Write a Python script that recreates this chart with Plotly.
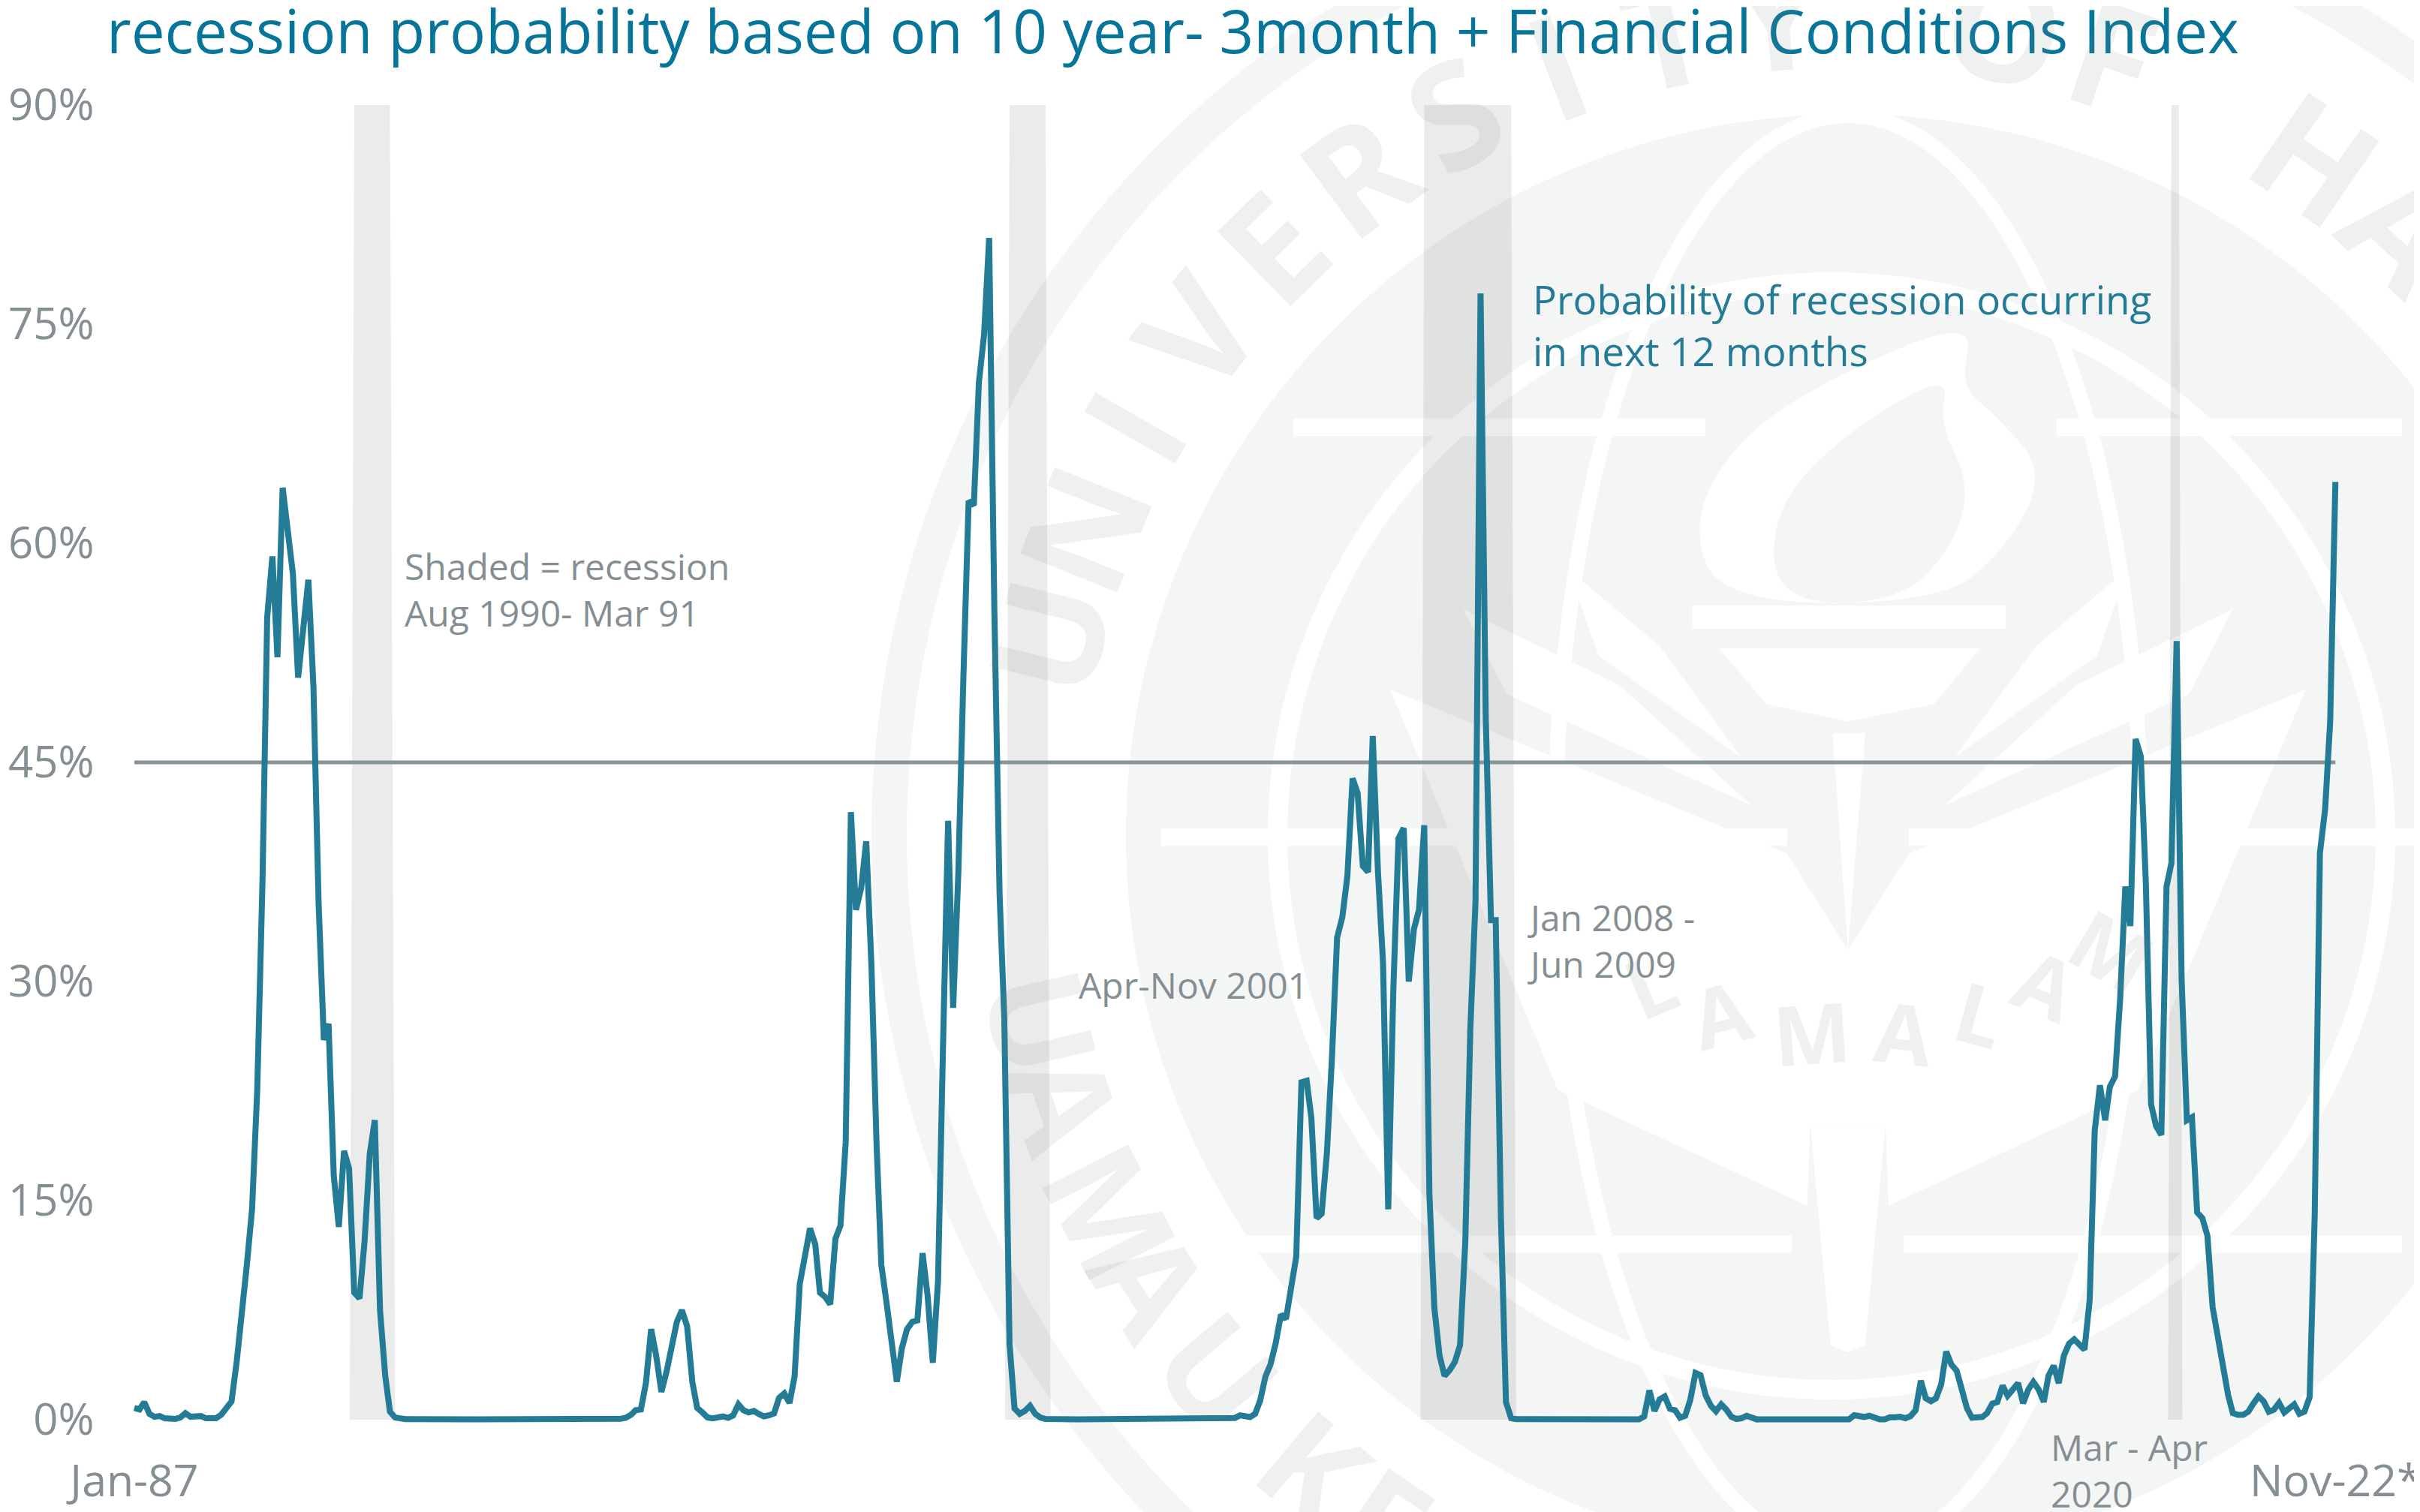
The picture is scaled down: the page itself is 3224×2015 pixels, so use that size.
import math
import pandas as pd
import plotly.graph_objects as go

W, H = 3224, 2015
L, R, T, B = 172, 3118, 140, 1902
PAGE_OFFSET = 8

months = pd.date_range("1987-01-01", periods=431, freq="MS")
prob = [
 .8,.7,1.2,.4,.2,.25,.1,.05,.05,.15,.45,.2,
 .2,.25,.1,.05,.1,.35,.85,1.25,4.0,7.0,10.7,14.4,
 22.6,36.8,54.9,59.1,52.2,63.8,60.8,57.9,50.8,54.6,57.5,50.2,
 35.3,26.0,27.1,16.7,13.2,18.4,17.2,8.7,8.3,12.2,18.2,20.5,
 7.5,3.0,.55,.15,.05,.04,.04,.03,.03,.03,.03,.03,
 .02,.02,.02,.02,.02,.02,.02,.02,.02,.02,.02,.02,
 .02,.02,.02,.02,.02,.02,.02,.02,.02,.02,.02,.02,
 .02,.02,.02,.02,.02,.02,.02,.02,.02,.02,.03,.07,
 .13,.33,.65,.7,2.5,6.2,4.4,1.9,3.3,5.2,6.7,7.5,
 6.4,2.6,.8,.5,.16,.1,.16,.23,.13,.3,1.05,.65,
 .5,.6,.4,.23,.3,.43,1.5,1.8,1.15,2.95,9.3,11,
 13.1,12,8.7,8.4,7.9,12.4,13.3,19,41.6,34.9,36.4,39.6,
 31.1,18.7,10.6,8,5.2,2.6,4.9,6.2,6.7,6.8,11.4,8.5,
 3.9,9.5,25.2,41.0,28.2,37.5,50.9,62.9,62.6,71,74.3,80.9,
 55.4,36,27.5,5.2,.77,.4,.6,.95,.4,.15,.05,.03,
 .03,.03,.03,.03,.03,.03,.03,.03,.1,.1,.03,.03,
 .03,.03,.03,.03,.03,.03,.03,.03,.03,.03,.03,.03,
 .03,.03,.03,.03,.03,.03,.03,.03,.03,.03,.1,.12,
 .3,.25,.18,.41,
 1.33,2.97,3.79,5.25,7.2,6.9,8.85,11.15,23.1,23.2,20.65,13.8,
 14.1,18.2,24.7,33,34.4,37.2,43.9,42.9,37.9,37.5,46.8,37.5,
 31.3,14.4,29.3,39.8,40.5,30,33.6,34.9,40.7,15.4,7.7,4.4,
 3.0,3.4,3.95,5.1,12.1,26.7,35.5,77.1,48,34.2,34.2,13.9,
 1.2,.1,.04,.04,.04,.04,.04,.04,.04,.04,.04,.04,
 .04,.04,.07,.07,.07,.07,.05,.05,.03,.03,.03,.03,
 .03,.03,.03,.22,2,.6,1.4,1.6,.75,.65,.14,.27,
 1.35,3.2,3.05,1.65,.95,.58,1.05,.7,.19,.05,.1,.27,
 .14,.02,.03,.03,.03,.03,.03,.03,.03,.03,.03,.03,
 .03,.03,.03,.03,.03,.03,.03,.03,.31,.27,.19,.27,
 .1,.02,.02,.17,.17,.2,.1,.24,.65,2.67,1.47,1.27,
 1.47,2.41,4.67,3.77,3.36,2.16,.79,.14,.17,.19,.45,1.1,
 1.22,2.33,1.64,2.07,2.5,1.13,2.07,2.59,2.07,1.22,3.0,3.7,
 2.5,4.4,5.2,5.5,5.2,4.8,8.2,19.8,22.9,20.5,22.8,23.5,
 28.8,36.5,33.8,46.6,45.4,36.7,21.6,20.1,19.5,36.5,38.1,53.3,
 30,20.5,20.7,14.2,13.8,12.6,7.7,5.6,4.0,1.7,.45,.33,
 .33,.55,1.1,1.6,1.25,.55,.7,1.15,.5,.75,1.05,.4,
 .55,1.55,14,38.8,41.8,47.8,64.2,
]
threshold = [45, 45]
threshold_dates = ["1987-01-01", "2022-11-01"]
recession_top_start = ["1990-08-01", "2001-04-01", "2008-01-01", "2020-03-01"]
recession_top_end = ["1991-03-01", "2001-11-01", "2009-06-01", "2020-04-15"]
recession_base_start = ["1990-07-05", "2001-03-05", "2007-12-10", "2020-02-10"]
recession_base_end = ["1991-04-01", "2001-12-01", "2009-07-01", "2020-05-05"]
y_ticks = [0, 15, 30, 45, 60, 75, 90]
y_labels = ["0%", "15%", "30%", "45%", "60%", "75%", "90%"]
x_ticks = ["1987-01-01", "2022-11-01"]
x_labels = ["Jan-87", "Nov-22*"]
assert len(prob) == 431, len(prob)

TEAL = "#237B96"
GRAY = "#858E93"
SEAL = "#F4F5F5"
LETTER = "rgba(125,135,135,0.12)"
FONT = "Open Sans"


def px(X):
    return (X - L) / (R - L)


def py(Y):
    return (B - Y) / (B - T)


def zx(x):
    return 1100 + x / 0.738


def zy(y):
    return y / 0.778


def pt(p):
    return f"{px(zx(p[0])):.5f},{py(zy(p[1])):.5f}"


def poly(points, color="white"):
    d = "M " + " L ".join(pt(p) for p in points) + " Z"
    return dict(type="path", path=d, xref="paper", yref="paper", layer="below",
                fillcolor=color, line=dict(width=0))


def blob(points, color="white"):
    n = len(points)
    mids = [((points[i][0] + points[(i + 1) % n][0]) / 2, (points[i][1] + points[(i + 1) % n][1]) / 2)
            for i in range(n)]
    d = "M " + pt(mids[-1])
    for i in range(n):
        d += " Q " + pt(points[i]) + " " + pt(mids[i])
    return dict(type="path", path=d + " Z", xref="paper", yref="paper", layer="below",
                fillcolor=color, line=dict(width=0))


def circle(cx, cy, rx, ry, fill=None, line=None, lw=0):
    return dict(type="circle", xref="paper", yref="paper", layer="below",
                x0=px(cx - rx), x1=px(cx + rx), y0=py(cy + ry), y1=py(cy - ry),
                fillcolor=fill if fill else "rgba(0,0,0,0)",
                line=dict(color=line if line else "rgba(0,0,0,0)", width=lw))


def mirror(points):
    return [(2010 - a, b) for a, b in points]


CX, CY = 2462, 1114
shapes = [
    circle(CX, CY, 1301, 1301, fill=SEAL),
    circle(CX, CY, 1254, 1254, fill="white"),
    circle(CX, CY, 962, 962, fill=SEAL),
    circle(2440, CY, 738, 738, line="white", lw=26),
    circle(CX, CY, 390, 960, line="white", lw=20),
]
for y0, a, b in [(443, 460, 865), (443, 1210, 1550), (868, 330, 945), (868, 1065, 1568),
                 (1290, 330, 950), (1290, 1060, 1550)]:
    shapes.append(poly([(a, y0 - 9), (b, y0 - 9), (b, y0 + 9), (a, y0 + 9)]))
shapes.append(poly([(945, 885), (1005, 985), (1065, 885), (1455, 715), (1290, 1130), (1045, 1250),
                    (1042, 1165), (968, 1165), (965, 1250), (720, 1130), (555, 715)]))
for leaf in ([(1280, 590), (1250, 680), (1110, 785), (1190, 670)],
             [(1383, 632), (1340, 720), (1100, 835), (1230, 710)]):
    shapes.append(poly(leaf))
    shapes.append(poly(mirror(leaf)))
shapes.append(poly([(990, 760), (1022, 760), (1005, 985)]))
shapes.append(poly([(968, 1165), (1042, 1165), (1022, 1395), (1005, 1402), (988, 1395)]))
shapes.append(poly([(852, 628), (1160, 628), (1160, 652), (852, 652)]))
shapes.append(poly([(878, 672), (1135, 672), (1090, 730), (1005, 748), (925, 730)]))
shapes.append(blob([(880, 625), (850, 540), (900, 450), (1000, 385), (1130, 330), (1115, 400),
                    (1150, 430), (1200, 490), (1160, 570), (1095, 625)]))
shapes.append(blob([(935, 625), (930, 530), (1000, 450), (1105, 385), (1095, 440), (1125, 500),
                    (1110, 565), (1055, 625)], SEAL))

annotations = []


def note(text, X, Y, color, size):
    annotations.append(dict(text=text, xref="paper", yref="paper", x=px(X), y=py(Y),
                            xanchor="left", yanchor="middle", align="left", showarrow=False,
                            font=dict(family=FONT, size=size, color=color)))


def letter(ch, X, Y, angle, size):
    annotations.append(dict(text=ch, xref="paper", yref="paper", x=px(X), y=py(Y),
                            xanchor="center", yanchor="middle", showarrow=False, textangle=angle,
                            font=dict(family=FONT, size=size, color=LETTER, weight=700)))


for k, ch in enumerate("UNIVERSITY OF HA"):
    if ch == " ":
        continue
    th = -76 + 7.9 * k
    letter(ch, CX + 1100 * math.sin(math.radians(th)), CY - 1100 * math.cos(math.radians(th)),
           th, 195)
for ch, a in zip("UAMAUKE", [13, 18.7, 27, 32.7, 40.4, 49.8, 55.9]):
    letter(ch, CX - 1100 * math.cos(math.radians(a)), CY + 1100 * math.sin(math.radians(a)),
           90 - a, 180)
for ch, a, b in zip("LAMALAM", [810, 880, 970, 1060, 1135, 1200, 1265],
                    [1020, 1050, 1070, 1070, 1050, 1020, 985]):
    letter(ch, zx(a), zy(b), (a - 1005) / 8.5, 110)

note("Shaded = recession<br>Aug 1990- Mar 91", 537, 786, GRAY, 48)
note("Apr-Nov 2001", 1435, 1312, GRAY, 48)
note("Jan 2008 -<br>Jun 2009", 2033, 1253, GRAY, 48)
note("Mar - Apr<br>2020", 2730, 1960, GRAY, 48)
note("Probability of recession occurring<br>in next 12 months", 2040, 433, TEAL, 53)

fig = go.Figure()
fig.add_trace(go.Scatter(x=["2014-12-15"], y=[-0.77], text=["1907"], mode="text", cliponaxis=False,
                         textfont=dict(family=FONT, size=100, color="white"), showlegend=False,
                         hoverinfo="skip"))
for a, b, c, d in zip(recession_top_start, recession_top_end, recession_base_end, recession_base_start):
    fig.add_trace(go.Scatter(x=[a, b, c, d, a], y=[90, 90, 0, 0, 90], mode="lines", fill="toself",
                             fillcolor="rgba(0,0,0,0.08)", line=dict(width=0), showlegend=False,
                             hoverinfo="skip"))
fig.add_trace(go.Scatter(x=threshold_dates, y=threshold, mode="lines",
                         line=dict(color="#8A9397", width=5), showlegend=False))
fig.add_trace(go.Scatter(x=months, y=prob, mode="lines", line=dict(color=TEAL, width=8),
                         showlegend=False))

fig.update_layout(
    width=W, height=H, autosize=False,
    margin=dict(l=L - PAGE_OFFSET, r=W - R + PAGE_OFFSET, t=T - PAGE_OFFSET, b=H - B + PAGE_OFFSET,
                autoexpand=False),
    paper_bgcolor="white", plot_bgcolor="rgba(0,0,0,0)",
    title=dict(text="recession probability based on 10 year- 3month + Financial Conditions Index",
               x=(142 - PAGE_OFFSET) / W, xanchor="left", xref="container",
               y=1 - (43 - PAGE_OFFSET) / H, yanchor="middle",
               yref="container", font=dict(family=FONT, size=80, color="#07759A")),
    xaxis=dict(type="date", range=["1986-12-01", "2022-12-01"], tickvals=x_ticks, ticktext=x_labels,
               automargin=False, showgrid=False, zeroline=False, showline=False, ticks="outside",
               ticklen=20, tickcolor="rgba(0,0,0,0)", tickfont=dict(family=FONT, size=59, color=GRAY)),
    yaxis=dict(range=[-0.513, 90], tickvals=y_ticks, ticktext=y_labels, showgrid=False, zeroline=False,
               automargin=False, showline=False, ticks="outside", ticklen=34, tickcolor="rgba(0,0,0,0)",
               tickfont=dict(family=FONT, size=58, color=GRAY)),
    shapes=shapes, annotations=annotations, showlegend=False,
)
fig.write_html("out.html")
